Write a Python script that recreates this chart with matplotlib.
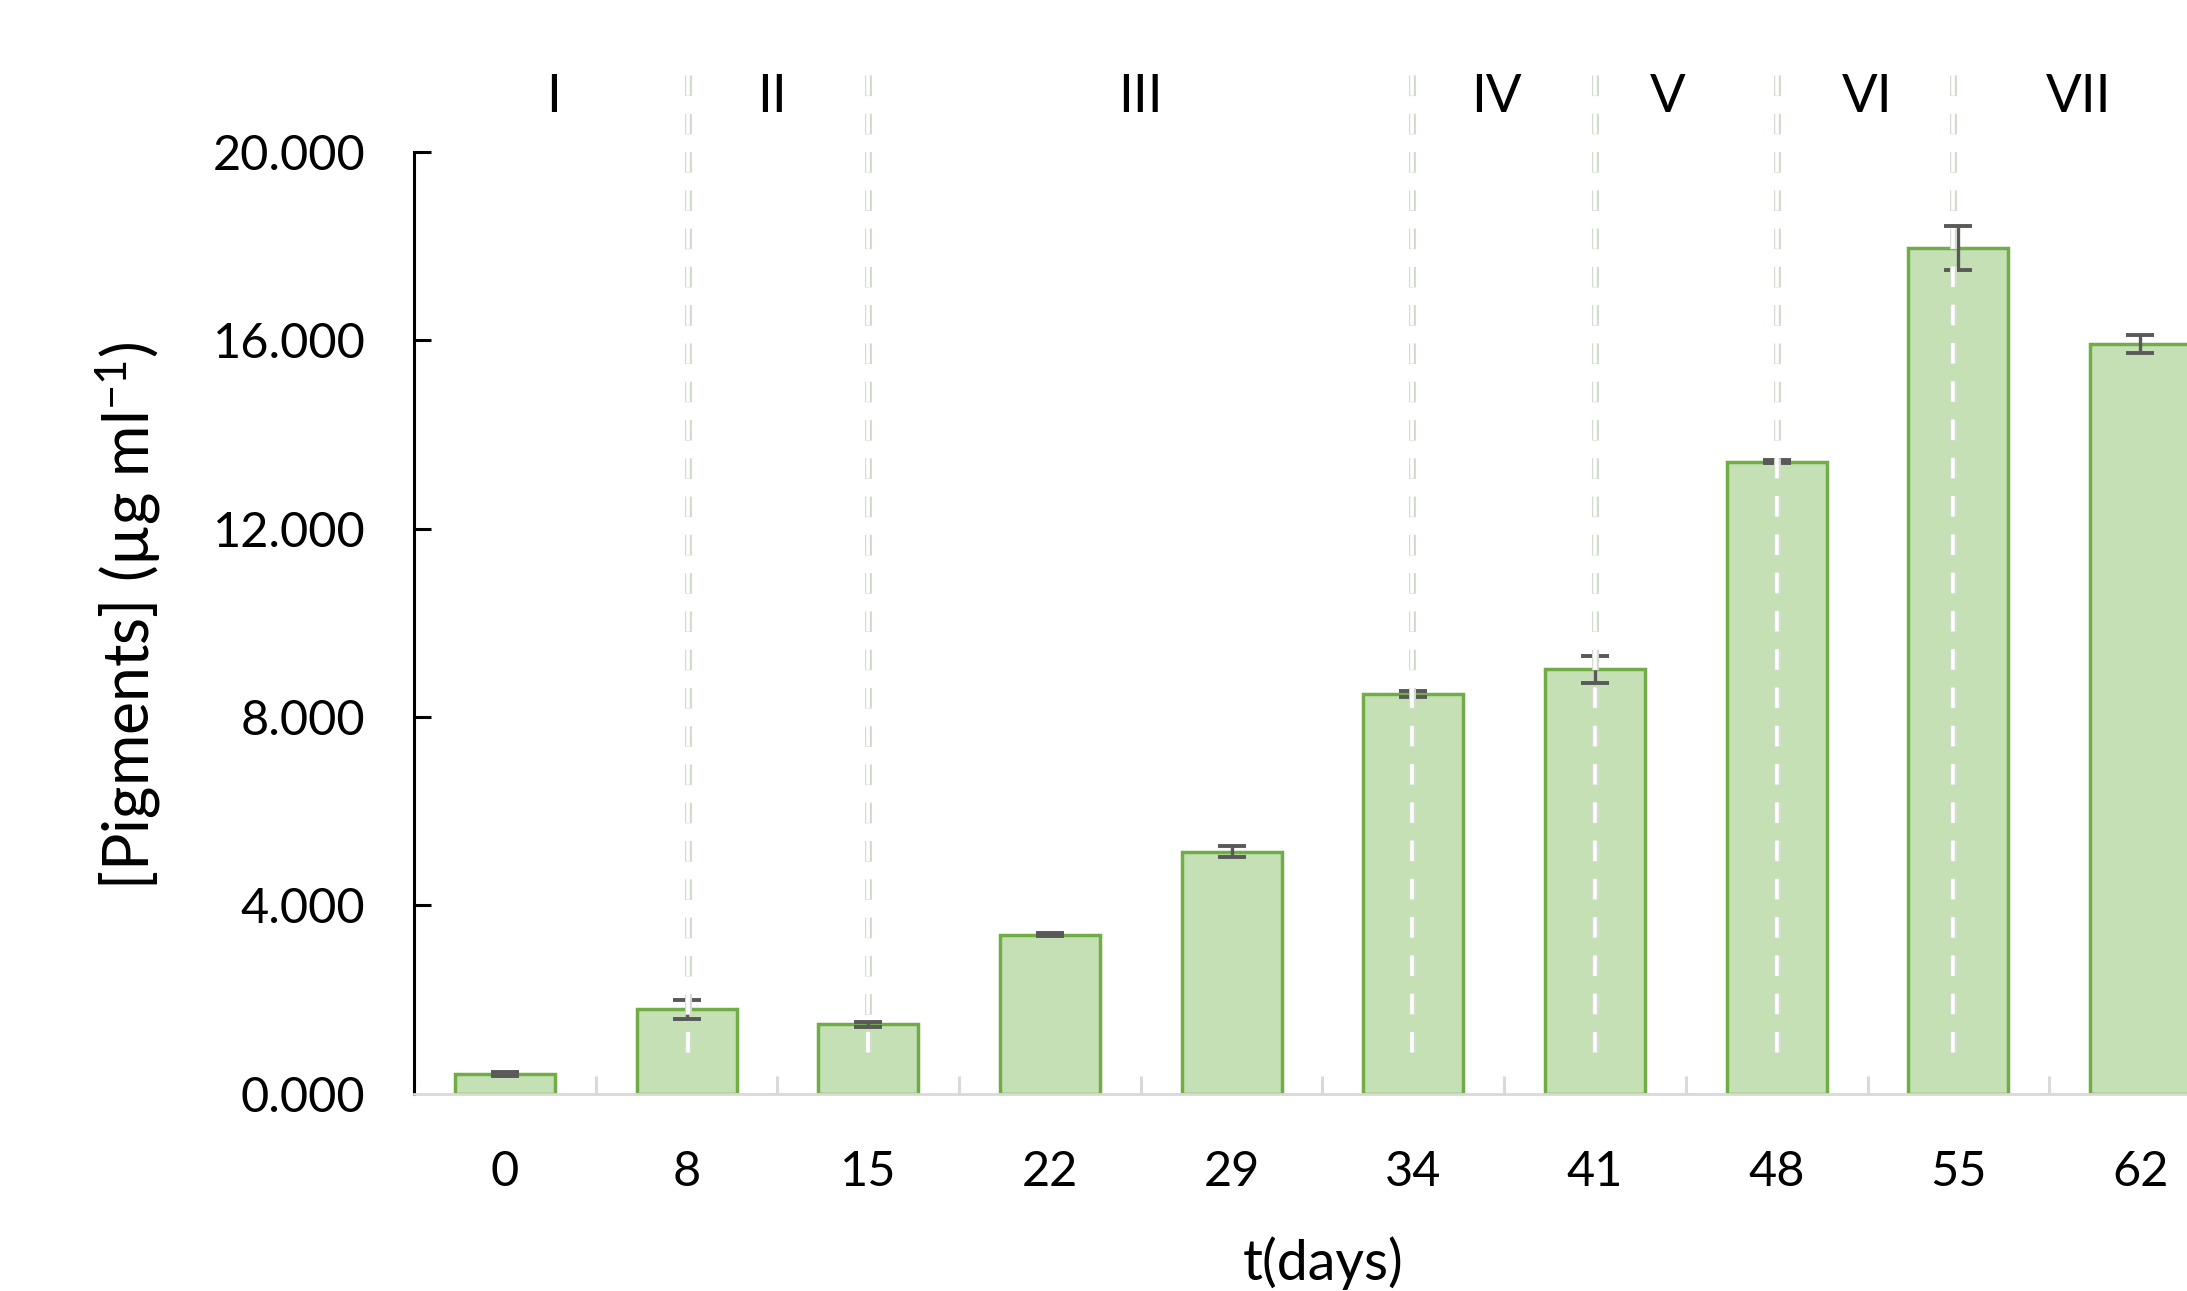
import matplotlib
matplotlib.use("Agg")
import matplotlib.pyplot as plt
import matplotlib.patheffects as pe
from matplotlib.ticker import FixedLocator, FuncFormatter
import numpy as np

plt.rcParams['font.family'] = ['Lato', 'DejaVu Sans']
plt.rcParams['mathtext.fontset'] = 'custom'
plt.rcParams['mathtext.rm'] = 'Lato'
plt.rcParams['mathtext.it'] = 'Lato:italic'
plt.rcParams['mathtext.bf'] = 'Lato:bold'

# ---- data ----
days = ["0", "8", "15", "22", "29", "34", "41", "48", "55", "62"]
pigments = [0.41, 1.79, 1.47, 3.37, 5.14, 8.49, 9.01, 13.42, 17.96, 15.92]
errors = [0.04, 0.20, 0.05, 0.03, 0.11, 0.07, 0.29, 0.03, 0.46, 0.20]
phase_labels = ["I", "II", "III", "IV", "V", "VI", "VII"]
phase_label_pos = [0.27, 1.47, 3.50, 5.46, 6.40, 7.50, 8.66]
phase_boundaries = [1.01, 2.00, 4.99, 6.00, 7.00, 7.97]
yticks = [0, 4, 8, 12, 16, 20]

W, H = 2187, 1291
fig = plt.figure(figsize=(W / 100, H / 100), dpi=100)
ax = fig.add_axes([414 / W, 1 - 1093.5 / H, 1817 / W, (1093.5 - 152) / H])

x = np.arange(len(days))
ax.bar(x, pigments, width=0.55, color='#c5e0b4', edgecolor='#70ad47',
       linewidth=2.5, zorder=2)
ax.errorbar(x, pigments, yerr=errors, fmt='none', ecolor='#595959',
            elinewidth=2.4, capsize=10, capthick=2.8, zorder=3)

for b in phase_boundaries:
    ax.plot([b, b], [21.63, 0.65], color='white', lw=2.6, dashes=(5.7, 4.9),
            clip_on=False, zorder=4, solid_capstyle='butt', dash_capstyle='butt',
            path_effects=[pe.Stroke(linewidth=5.0, foreground='#d2dccd'), pe.Normal()])

for lab, px in zip(phase_labels, phase_label_pos):
    ax.text(px, 21.15, lab, ha='center', va='center', fontsize=38,
            color='black', clip_on=False)

ax.set_xlim(-0.5, len(days) - 0.5)
ax.set_ylim(0, 20)

# spines
for s in ['top', 'right']:
    ax.spines[s].set_visible(False)
ax.spines['left'].set_color('black')
ax.spines['left'].set_linewidth(2.2)
ax.spines['bottom'].set_color('#d9d9d9')
ax.spines['bottom'].set_linewidth(2.0)

# x ticks
ax.xaxis.set_major_locator(FixedLocator(x))
ax.set_xticklabels(days)
ax.xaxis.set_minor_locator(FixedLocator(np.arange(len(days) + 1) - 0.5))
ax.tick_params(axis='x', which='major', direction='in', length=8, width=2.0,
               color='#d9d9d9', labelsize=35, pad=41, labelcolor='black')
ax.tick_params(axis='x', which='minor', direction='in', length=12.7, width=2.2,
               color='#d9d9d9')

# y ticks
ax.yaxis.set_major_locator(FixedLocator(yticks))
ax.yaxis.set_major_formatter(FuncFormatter(lambda v, p: f"{v:.3f}"))
ax.tick_params(axis='y', which='major', direction='in', length=12.5, width=2.2,
               color='black', labelsize=35, pad=35)
ax.yaxis.get_major_ticks()[0].tick1line.set_visible(False)

fig.text(128 / W, 1 - 615.5 / H, "[Pigments] (µg ml$^{-1}$)", rotation=90,
         ha='center', va='center', fontsize=45)
fig.text(1323 / W, 1 - 1263 / H, "t(days)", ha='center', va='center', fontsize=40)

fig.savefig("out.png", dpi=100, facecolor='white')
